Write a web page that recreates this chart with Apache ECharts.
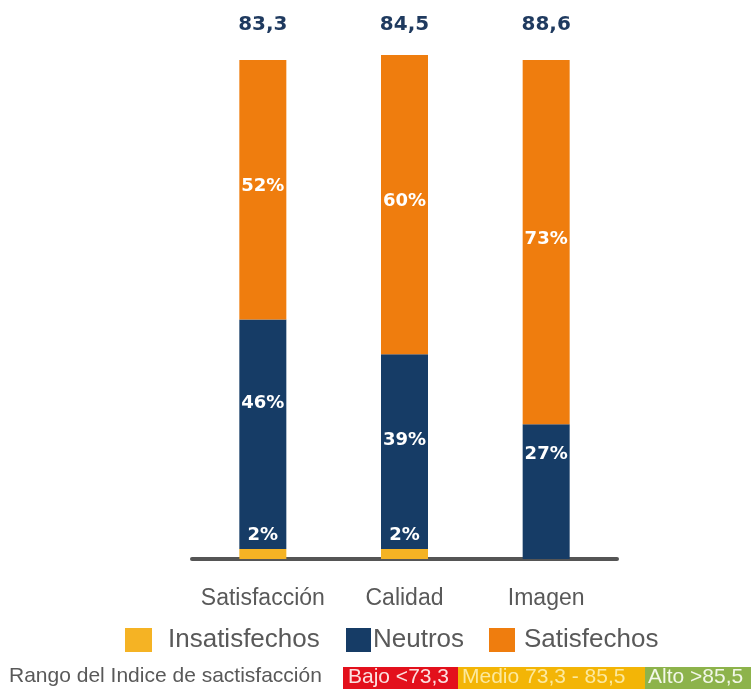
<!DOCTYPE html>
<html>
<head>
<meta charset="utf-8">
<script src="https://cdn.jsdelivr.net/npm/echarts@6/dist/echarts.min.js"></script>
<style>html,body{margin:0;padding:0;background:#fff}#c{width:751px;height:689px}</style>
</head>
<body>
<div id="c"></div>
<script>
const categories = ['Satisfacción', 'Calidad', 'Imagen'];
const insatisfechos = [2, 2, 0];
const neutros = [46, 39, 27];
const satisfechos = [52, 60, 73];
const indiceValues = [83.3, 84.5, 88.6];
const seriesNames = ['Insatisfechos', 'Neutros', 'Satisfechos'];
const rangeTitle = 'Rango del Indice de sactisfacción';
const rangeLabels = ['Bajo <73,3', 'Medio 73,3 - 85,5', 'Alto >85,5'];

// layout-only constants (label nudges for neutros labels)
const neutrosLabelNudge = [-31, -11, -37];
const indexLabelLevel = 107;

const C_YEL = '#F5B324', C_NAVY = '#163C66', C_ORG = '#EF7D0E';
const chart = echarts.init(document.getElementById('c'));
const pct = p => (p.value ? p.value + '%' : '');
const inLbl = {fontFamily: 'DejaVu Sans', fontWeight: 'bold', fontSize: 18, color: '#fff'};

chart.setOption({
  animation: false,
  grid: {left: 192, right: 134, top: 0, bottom: 130},
  xAxis: {
    type: 'category', data: categories,
    axisLine: {lineStyle: {color: '#555', width: 4}},
    axisTick: {show: false},
    axisLabel: {interval: 0, margin: 28, fontFamily: 'Liberation Sans', fontSize: 23, color: '#595959'}
  },
  yAxis: {type: 'value', min: 0, max: 112, show: false, splitLine: {show: false}},
  legend: [
    {left: 125, top: 627, padding: 0, icon: 'rect', itemWidth: 27, itemHeight: 24, data: [seriesNames[0]],
     textStyle: {fontFamily: 'Liberation Sans', fontSize: 26, color: '#595959', padding: [0, 0, 0, 11]}},
    {left: 346, top: 627, padding: 0, icon: 'rect', itemWidth: 25, itemHeight: 24, data: [seriesNames[1]],
     textStyle: {fontFamily: 'Liberation Sans', fontSize: 26, color: '#595959', padding: [0, 0, 0, -3]}},
    {left: 489, top: 627, padding: 0, icon: 'rect', itemWidth: 26, itemHeight: 24, data: [seriesNames[2]],
     textStyle: {fontFamily: 'Liberation Sans', fontSize: 26, color: '#595959', padding: [0, 0, 0, 4]}}
  ],
  series: [
    {name: seriesNames[0], type: 'bar', stack: 't', barWidth: 47, data: insatisfechos,
     itemStyle: {color: C_YEL},
     label: Object.assign({show: true, position: 'top', distance: 5, formatter: pct}, inLbl)},
    {name: seriesNames[1], type: 'bar', stack: 't', barWidth: 47,
     data: neutros.map((v, i) => ({value: v, label: {offset: [0, neutrosLabelNudge[i]]}})),
     itemStyle: {color: C_NAVY},
     label: Object.assign({show: true, position: 'inside', formatter: pct}, inLbl)},
    {name: seriesNames[2], type: 'bar', stack: 't', barWidth: 47, data: satisfechos,
     itemStyle: {color: C_ORG},
     label: Object.assign({show: true, position: 'inside', offset: [0, -3], formatter: pct}, inLbl)},
    {name: 'indice', type: 'scatter', symbolSize: 0, silent: true,
     itemStyle: {opacity: 1},
     data: indiceValues.map(v => ({value: indexLabelLevel, idx: v})),
     label: {show: true, position: 'inside', fontFamily: 'DejaVu Sans', fontWeight: 'bold',
       fontSize: 20, color: '#1F3A5F',
       formatter: p => indiceValues[p.dataIndex].toFixed(1).replace('.', ',')}}
  ],
  graphic: [
    {type: 'text', left: 9, top: 666,
     style: {text: rangeTitle, font: '21px "Liberation Sans"', fill: '#595959'}},
    {type: 'rect', left: 343, top: 667, shape: {width: 115, height: 22}, style: {fill: '#E3101C'}},
    {type: 'rect', left: 458, top: 667, shape: {width: 187, height: 22}, style: {fill: '#F3B506'}},
    {type: 'rect', left: 645, top: 667, shape: {width: 106, height: 22}, style: {fill: '#8DB34B'}},
    {type: 'text', left: 348, top: 667, style: {text: rangeLabels[0], font: '21px "Liberation Sans"', fill: '#FCE0E0'}},
    {type: 'text', left: 462, top: 667, style: {text: rangeLabels[1], font: '21px "Liberation Sans"', fill: '#FCE99E'}},
    {type: 'text', left: 648, top: 667, style: {text: rangeLabels[2], font: '21px "Liberation Sans"', fill: '#F2F7E8'}}
  ]
});
</script>
</body>
</html>
